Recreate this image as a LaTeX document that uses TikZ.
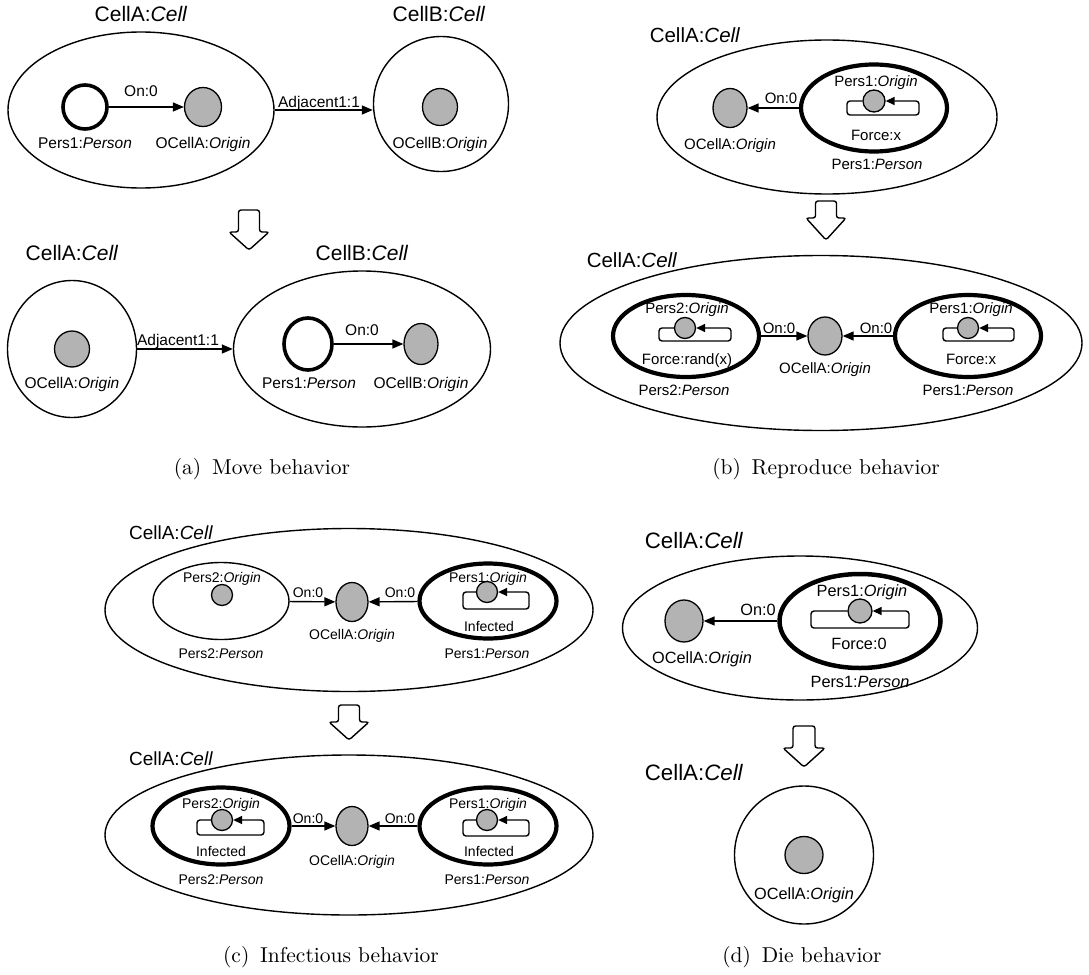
\documentclass[tikz,border=0pt]{standalone}
\usepackage{fontspec}
\newfontfamily\lsans{Liberation Sans}
\usetikzlibrary{shapes.geometric,arrows.meta}
\definecolor{orgray}{RGB}{179,179,179}
\newcommand{\mkloop}[4]{%
  \draw[loopline] (#1.west) -- ([xshift=-#2pt]#1.center) -- ([xshift=-#2pt,yshift=-#4pt]#1.center)
    -- ([xshift=#3pt,yshift=-#4pt]#1.center) -- ([xshift=#3pt]#1.center) -- (#1.east);}
\newcommand{\hollowdown}[4]{%
  \draw[hollow] (#1-10.5,#2) -- (#1-10.5,#3) -- (#1-20,#3) -- (#1,#4) -- (#1+20,#3)
    -- (#1+10.5,#3) -- (#1+10.5,#2) -- cycle;}
\newcommand{\captext}[1]{\scalebox{2.15}{\fontsize{10}{12}\selectfont #1}}
\begin{document}
\begin{tikzpicture}[x=1pt,y=-1pt,
  cellbox/.style={ellipse, draw, line width=1.4pt, inner sep=0pt, fill=white},
  persbox/.style={ellipse, draw, line width=4.2pt, inner sep=0pt},
  origin/.style={ellipse, draw, line width=1.3pt, fill=orgray, inner sep=0pt},
  arr/.style={-{Triangle[length=11pt,width=9pt]}, line width=1.4pt},
  loopline/.style={line width=1.4pt, rounded corners=3pt, -{Triangle[length=9pt,width=8pt]}},
  hollow/.style={line width=1.4pt, rounded corners=2.5pt, fill=white},
  txt/.style={inner sep=0pt, anchor=base},
  tA/.style={txt, font=\lsans\fontsize{15.5}{18}\selectfont},
  tB/.style={txt, font=\lsans\fontsize{15}{18}\selectfont},
  tC/.style={txt, font=\lsans\fontsize{14}{17}\selectfont},
  tD/.style={txt, font=\lsans\fontsize{16.3}{19}\selectfont},
  bA/.style={txt, font=\lsans\fontsize{21}{25}\selectfont},
  bB/.style={txt, font=\lsans\fontsize{20.5}{24}\selectfont},
  bC/.style={txt, font=\lsans\fontsize{19}{23}\selectfont},
  bD/.style={txt, font=\lsans\fontsize{22.3}{26}\selectfont},
  captxt/.style={txt}]
\useasboundingbox[fill=white] (0,0) rectangle (1089,974);

% ================= (a) Move behavior =================
\node[cellbox, minimum width=266pt, minimum height=156pt] (aCellA) at (141,110) {};
\node[bA] (aCellAl) at (141,22) {CellA:\textit{Cell}};
\node[cellbox, minimum width=135pt, minimum height=135pt] (aCellB) at (441,104) {};
\node[bA] (aCellBl) at (439,22) {CellB:\textit{Cell}};
\node[persbox, line width=3.6pt, minimum width=44pt, minimum height=44pt] (aPers) at (85,107) {};
\node[origin, minimum width=37pt, minimum height=39pt] (aOA) at (203,107) {};
\node[origin, minimum width=35pt, minimum height=37pt] (aOB) at (440,107) {};
\draw[arr] (aPers) -- (aOA);
\draw[arr] (aCellA.east) -- (aCellA.east -| aCellB.west);
\node[tA] (aOnl) at (141,96) {On:0};
\node[tA] (aAdjl) at (319,107) {Adjacent1:1};
\node[tA] (aPersl) at (85,148) {Pers1:\textit{Person}};
\node[tA] (aOAl) at (203,148) {OCellA:\textit{Origin}};
\node[tA] (aOBl) at (440,148) {OCellB:\textit{Origin}};

\hollowdown{249}{210}{232}{250}

\node[cellbox, minimum width=129pt, minimum height=137pt] (aCellA2) at (72,349) {};
\node[bA] (aCellA2l) at (72,260) {CellA:\textit{Cell}};
\node[cellbox, minimum width=257pt, minimum height=156pt] (aCellB2) at (362,349) {};
\node[bA] (aCellB2l) at (362,260) {CellB:\textit{Cell}};
\node[origin, minimum width=35pt, minimum height=36pt] (aOA2) at (72,349) {};
\node[persbox, line width=3.6pt, minimum width=48pt, minimum height=52pt] (aPers2) at (308,344) {};
\node[origin, minimum width=34pt, minimum height=41pt] (aOB2) at (421,344) {};
\draw[arr] (aCellA2) -- (aCellB2);
\draw[arr] (aPers2) -- (aOB2);
\node[tA] (aAdj2l) at (178,345) {Adjacent1:1};
\node[tA] (aOn2l) at (362,335) {On:0};
\node[tA] (aOA2l) at (72,388) {OCellA:\textit{Origin}};
\node[tA] (aPers2l) at (309,388) {Pers1:\textit{Person}};
\node[tA] (aOB2l) at (421,388) {OCellB:\textit{Origin}};

\node[captxt] (capa) at (262,474) {\captext{(a)\hspace{0.5em}Move behavior}};

% ================= (b) Reproduce behavior =================
\node[cellbox, minimum width=340pt, minimum height=154pt] (bCellA) at (827,117) {};
\node[bB] (bCellAl) at (695,43) {CellA:\textit{Cell}};
\node[origin, minimum width=34pt, minimum height=39pt] (bOA) at (730,108) {};
\node[persbox, minimum width=146pt, minimum height=87pt] (bPers1) at (874,108) {};
\node[origin, minimum width=22pt, minimum height=22pt] (bP1o) at (874,101) {};
\mkloop{bP1o}{27}{45}{14}
\draw[arr] (bPers1) -- (bOA);
\node[tB] (bP1ol) at (876,86) {Pers1:\textit{Origin}};
\node[tB] (bForce1) at (876,140) {Force:x};
\node[tB] (bPers1l) at (877,169) {Pers1:\textit{Person}};
\node[tB] (bOAl) at (730,149) {OCellA:\textit{Origin}};
\node[tB] (bOnl) at (781,103) {On:0};

\hollowdown{826}{201}{218}{240}

\node[cellbox, minimum width=522pt, minimum height=175pt] (bCellA2) at (821,343) {};
\node[bB] (bCellA2l) at (632,267) {CellA:\textit{Cell}};
\node[persbox, minimum width=146pt, minimum height=82pt] (bPers2) at (686,336) {};
\node[origin, minimum width=21pt, minimum height=21pt] (bP2o) at (685,328) {};
\mkloop{bP2o}{26}{46}{13}
\node[origin, minimum width=34pt, minimum height=38pt] (bOA2) at (825,336) {};
\node[persbox, minimum width=146pt, minimum height=82pt] (bPers1b) at (968,336) {};
\node[origin, minimum width=21pt, minimum height=21pt] (bP1ob) at (968,328) {};
\mkloop{bP1ob}{25}{46}{13}
\draw[arr] (bPers2) -- (bOA2);
\draw[arr] (bPers1b) -- (bOA2);
\node[tB] (bP2ol) at (687,313) {Pers2:\textit{Origin}};
\node[tB] (bForce2) at (687,364) {Force:rand(x)};
\node[tB] (bPers2l) at (684,395) {Pers2:\textit{Person}};
\node[tB] (bOA2l) at (825,373) {OCellA:\textit{Origin}};
\node[tB] (bP1obl) at (971,313) {Pers1:\textit{Origin}};
\node[tB] (bForce1b) at (971,364) {Force:x};
\node[tB] (bPers1bl) at (968,395) {Pers1:\textit{Person}};
\node[tB] (bOn2l) at (779,333) {On:0};
\node[tB] (bOn3l) at (876,333) {On:0};

\node[captxt] (capb) at (826,474) {\captext{(b)\hspace{0.5em}Reproduce behavior}};

% ================= (c) Infectious behavior =================
\node[cellbox, minimum width=488pt, minimum height=163pt] (cCellA) at (349,610) {};
\node[bC] (cCellAl) at (171,539) {CellA:\textit{Cell}};
\node[cellbox, minimum width=136pt, minimum height=77pt] (cPers2) at (221,601) {};
\node[origin, minimum width=21pt, minimum height=21pt] (cP2o) at (222,595) {};
\node[origin, minimum width=32pt, minimum height=39pt] (cOA) at (352,602) {};
\node[persbox, minimum width=137pt, minimum height=75pt] (cPers1) at (488,601) {};
\node[origin, minimum width=21pt, minimum height=21pt] (cP1o) at (487,592) {};
\mkloop{cP1o}{24}{42}{17}
\draw[arr] (cPers2) -- (cOA);
\draw[arr] (cPers1) -- (cOA);
\node[tC] (cP2ol) at (222,582) {Pers2:\textit{Origin}};
\node[tC] (cPers2l) at (221,658) {Pers2:\textit{Person}};
\node[tC] (cOAl) at (352,639) {OCellA:\textit{Origin}};
\node[tC] (cP1ol) at (488,582) {Pers1:\textit{Origin}};
\node[tC] (cInf1) at (489,631) {Infected};
\node[tC] (cPers1l) at (487,658) {Pers1:\textit{Person}};
\node[tC] (cOn1l) at (308,597) {On:0};
\node[tC] (cOn2l) at (400,597) {On:0};

\hollowdown{349}{705}{722}{740}

\node[cellbox, minimum width=488pt, minimum height=160pt] (cCellA2) at (349,835) {};
\node[bC] (cCellA2l) at (171,765) {CellA:\textit{Cell}};
\node[persbox, minimum width=137pt, minimum height=77pt] (cPers2b) at (221,826) {};
\node[origin, minimum width=21pt, minimum height=21pt] (cP2ob) at (222,820) {};
\mkloop{cP2ob}{25}{42}{15}
\node[origin, minimum width=32pt, minimum height=39pt] (cOA2) at (352,826) {};
\node[persbox, minimum width=137pt, minimum height=77pt] (cPers1b) at (488,826) {};
\node[origin, minimum width=21pt, minimum height=21pt] (cP1ob) at (487,820) {};
\mkloop{cP1ob}{24}{42}{16}
\draw[arr] (cPers2b) -- (cOA2);
\draw[arr] (cPers1b) -- (cOA2);
\node[tC] (cP2obl) at (221,808) {Pers2:\textit{Origin}};
\node[tC] (cInf2) at (221,856) {Infected};
\node[tC] (cPers2bl) at (221,884) {Pers2:\textit{Person}};
\node[tC] (cOA2l) at (352,865) {OCellA:\textit{Origin}};
\node[tC] (cP1obl) at (488,808) {Pers1:\textit{Origin}};
\node[tC] (cInf3) at (489,856) {Infected};
\node[tC] (cPers1bl) at (487,884) {Pers1:\textit{Person}};
\node[tC] (cOn3l) at (308,823) {On:0};
\node[tC] (cOn4l) at (400,823) {On:0};

\node[captxt] (capc) at (331,962) {\captext{(c)\hspace{0.5em}Infectious behavior}};

% ================= (d) Die behavior =================
\node[cellbox, minimum width=355pt, minimum height=144pt] (dCellA) at (800,628) {};
\node[bD] (dCellAl) at (694,548) {CellA:\textit{Cell}};
\node[origin, minimum width=38pt, minimum height=42pt] (dOA) at (684,621) {};
\node[persbox, line width=4.5pt, minimum width=161pt, minimum height=94pt] (dPers1) at (860,621) {};
\node[origin, minimum width=24pt, minimum height=24pt] (dP1o) at (860,611) {};
\mkloop{dP1o}{49}{49}{17}
\draw[arr] (dPers1) -- (dOA);
\node[tD] (dP1ol) at (862,596) {Pers1:\textit{Origin}};
\node[tD] (dForce) at (859,649) {Force:0};
\node[tD] (dPers1l) at (860,687) {Pers1:\textit{Person}};
\node[tD] (dOAl) at (702,663) {OCellA:\textit{Origin}};
\node[tD] (dOnl) at (758,615) {On:0};

\draw[hollow] (804-11,726) -- (804-11,748) -- (804-21,748) -- (804,767) -- (804+21,748)
    -- (804+11,748) -- (804+11,726) -- cycle;

\node[cellbox, minimum width=139pt, minimum height=138pt] (dCellA2) at (804,855) {};
\node[bD] (dCellA2l) at (694,780) {CellA:\textit{Cell}};
\node[origin, minimum width=38pt, minimum height=37pt] (dOA2) at (804,855) {};
\node[tD] (dOA2l) at (804,899) {OCellA:\textit{Origin}};

\node[captxt] (capd) at (802,962) {\captext{(d)\hspace{0.5em}Die behavior}};
\end{tikzpicture}
\end{document}
